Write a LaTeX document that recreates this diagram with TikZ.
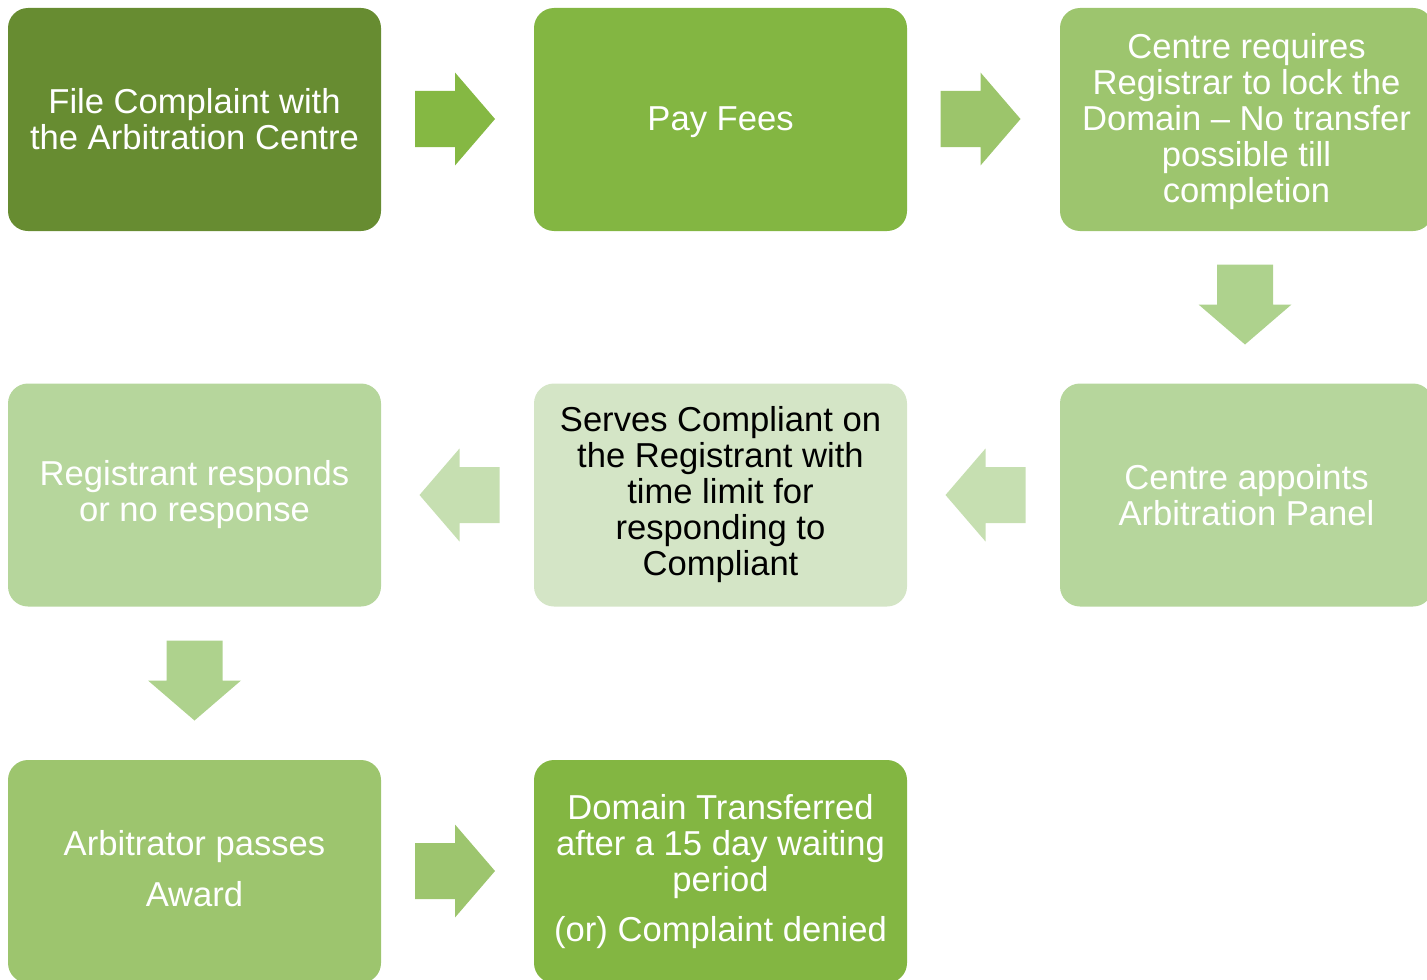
\documentclass[tikz,border=0pt]{standalone}
\usepackage{fontspec}
\setmainfont{Liberation Sans}
\definecolor{cdark}{HTML}{678C31}
\definecolor{cmid}{HTML}{83B642}
\definecolor{clight}{HTML}{9DC56E}
\definecolor{cpale}{HTML}{B6D69C}
\definecolor{cpalest}{HTML}{D4E5C6}
\definecolor{arA}{HTML}{85B843}
\definecolor{arB}{HTML}{9CC56B}
\definecolor{arD}{HTML}{AED28D}
\definecolor{arL}{HTML}{C6DFB1}
\newcommand{\padtop}[2]{\raisebox{0pt}[\dimexpr\height+#1\relax][\depth]{#2}}
\newcommand{\padbot}[2]{\raisebox{0pt}[\height][\dimexpr\depth+#1\relax]{#2}}
\begin{document}
\begin{tikzpicture}[x=0.5pt,y=-0.5pt,
  box/.style={rounded corners=10pt, minimum width=186.5pt, minimum height=111.5pt,
    inner sep=0pt, align=center, font=\fontsize{17.3}{18}\selectfont, text=white},
  pics/barrow/.style={code={\fill[#1] (-40,-28) -- (0,-28) -- (0,-46.5) -- (40,0)
    -- (0,46.5) -- (0,28) -- (-40,28) -- cycle;}}]
\useasboundingbox (0,0) rectangle (1427,979);
\clip (0,0) rectangle (1427,979);
% row 1
\node[box, fill=cdark] (b1) at (194.5,119.5) {File Complaint with\\the Arbitration Centre};
\node[box, fill=cmid] (b2) at (720.5,119.5) {\padtop{3pt}{Pay Fees}};
\node[box, fill=clight] (b3) at (1246.5,119.5) {\padtop{2.5pt}{Centre requires}\\Registrar to lock the\\Domain -- No transfer\\possible till\\completion};
% row 2
\node[box, fill=cpale] (b4) at (1246.5,495) {Centre appoints\\Arbitration Panel};
\node[box, fill=cpalest, text=black] (b5) at (720.5,495) {Serves Compliant on\\the Registrant with\\time limit for\\responding to\\Compliant};
\node[box, fill=cpale] (b6) at (194.5,495) {Registrant responds\\or no response};
% row 3
\node[box, fill=clight] (b7) at (194.5,871.5) {Arbitrator passes\\[7.5pt]\padbot{3pt}{Award}};
\node[box, fill=cmid] (b8) at (720.5,871.5) {Domain Transferred\\after a 15 day waiting\\period\\[7pt](or) Complaint denied};
% block arrows
\pic at (455,119) {barrow=arA};
\pic at (980.5,119) {barrow=arB};
\pic[rotate=-90] at (1245,304.5) {barrow=arD};
\pic[rotate=180] at (985.5,495) {barrow=arL};
\pic[rotate=180] at (459.5,495) {barrow=arL};
\pic[rotate=-90] at (194.5,680.5) {barrow=arD};
\pic at (455,871) {barrow=clight};
\end{tikzpicture}
\end{document}
